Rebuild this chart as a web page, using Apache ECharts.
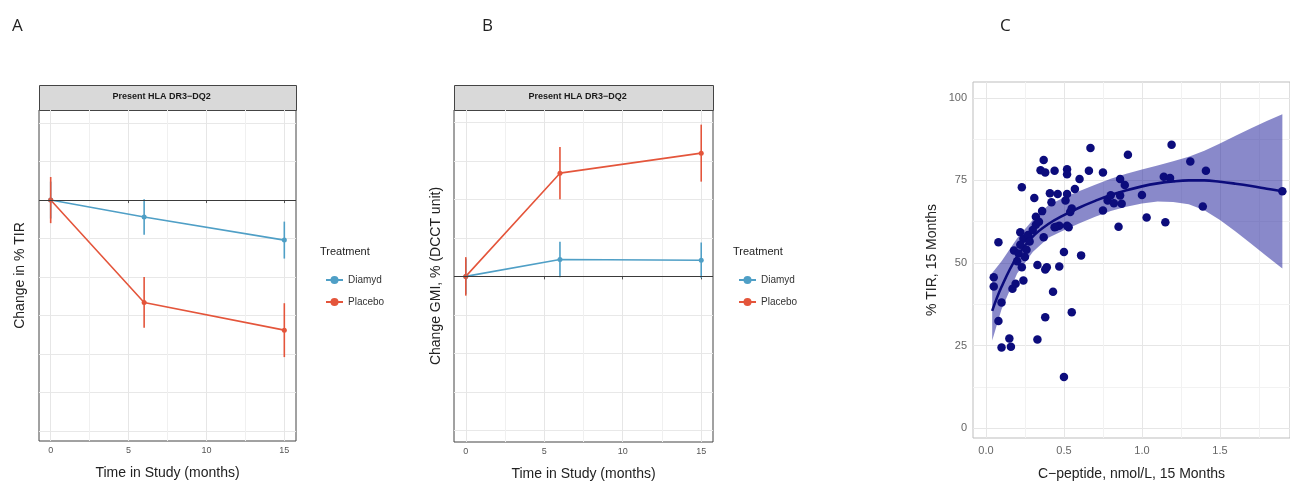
<!DOCTYPE html>
<html lang="en">

<head>
    <meta charset="UTF-8">
    <title>TIR / GMI / C-peptide</title>
    <script src="https://cdn.jsdelivr.net/npm/echarts@6/dist/echarts.min.js"></script>
    <style>
        html, body { margin: 0; padding: 0; background: #fff; }
        #chart { width: 1290px; height: 490px; }
    </style>
</head>

<body>
    <div id="chart"></div>
    <script>
        // panels A and B: visit months, mean change and error half-widths
        const months = [0, 6, 15];
        const diamydTIR = [0, -2.2, -5.2];
        const diamydTIRerr = [2.4, 2.3, 2.4];
        const placeboTIR = [0, -13.3, -16.9];
        const placeboTIRerr = [3.0, 3.3, 3.5];
        const diamydGMI = [0, 2.2, 2.1];
        const diamydGMIerr = [2.3, 2.3, 2.3];
        const placeboGMI = [0, 13.4, 16.0];
        const placeboGMIerr = [2.5, 3.4, 3.7];
        const monthTicks = [0, 5, 10, 15];
        const monthMinor = [2.5, 7.5, 12.5];
        const tirGrid = [-30, -25, -20, -15, -10, -5, 0, 5, 10];
        const gmiGrid = [-20, -15, -10, -5, 0, 5, 10, 15, 20];

        // panel C: scatter of C-peptide vs TIR
        const cpeptide = [0.05, 0.05, 0.08, 0.08, 0.10, 0.10, 0.16, 0.15, 0.17, 0.19,
            0.18, 0.21, 0.23, 0.22, 0.23, 0.24, 0.24, 0.25, 0.31, 0.32,
            0.33, 0.33, 0.35, 0.36, 0.37, 0.37, 0.38, 0.38, 0.38, 0.41,
            0.42, 0.43, 0.44, 0.46, 0.47, 0.47, 0.50, 0.50, 0.52, 0.52,
            0.52, 0.51, 0.52, 0.54, 0.55, 0.57, 0.60, 0.61, 0.66, 0.67,
            0.75, 0.75, 0.78, 0.82, 0.85, 0.86, 0.86, 0.87, 0.89, 0.91,
            1.00, 1.03, 1.14, 1.15, 1.18, 1.19, 1.31, 1.41, 1.39, 1.90,
            0.20, 0.22, 0.27, 0.30, 0.32, 0.34, 0.28, 0.26, 0.45, 0.55,
            0.80, 0.39, 0.44, 0.53];
        const tir15 = [45.7, 42.9, 56.3, 32.4, 38.0, 24.4, 24.6, 27.1, 42.2, 43.7,
            53.8, 52.9, 72.9, 59.3, 48.7, 44.7, 57.3, 51.8, 69.7, 61.6,
            49.4, 26.8, 78.1, 65.7, 57.8, 81.2, 77.4, 48.0, 33.6, 71.1,
            68.4, 41.3, 77.9, 70.9, 48.9, 61.3, 53.3, 15.5, 78.4, 76.9,
            70.9, 68.9, 61.3, 65.4, 35.1, 72.4, 75.4, 52.3, 77.9, 84.8,
            77.4, 65.9, 68.9, 68.1, 61.0, 75.4, 70.4, 67.9, 73.6, 82.8,
            70.6, 63.8, 76.1, 62.3, 75.7, 85.8, 80.7, 77.9, 67.1, 71.7,
            50.5, 55.5, 58.5, 60.0, 64.0, 62.5, 56.5, 54.0, 61.0, 66.5,
            70.5, 48.7, 60.8, 60.8];
        // smoothed fit with its confidence band
        const fitX = [0.04, 0.1, 0.2, 0.3, 0.4, 0.5, 0.6, 0.7, 0.8, 0.9,
            1.0, 1.1, 1.2, 1.3, 1.4, 1.5, 1.6, 1.7, 1.8, 1.9];
        const fitY = [35.5, 42.8, 52.0, 58.0, 61.8, 64.5, 66.8, 68.8, 70.6, 72.0,
            73.2, 74.1, 74.7, 75.0, 75.0, 74.6, 74.0, 73.3, 72.5, 71.7];
        const fitUpper = [47.0, 50.5, 57.5, 63.0, 67.5, 69.8, 71.8, 73.7, 75.5, 77.0,
            78.3, 79.5, 80.8, 82.2, 84.0, 86.2, 88.5, 90.8, 93.0, 95.0];
        const fitLower = [26.5, 36.0, 46.8, 53.3, 57.6, 59.9, 62.0, 64.0, 65.7, 67.0,
            68.0, 68.6, 68.5, 67.8, 66.0, 63.0, 59.5, 55.8, 52.0, 48.3];
        const cTicksX = [0, 0.5, 1.0, 1.5];
        const cMinorX = [0.25, 0.75, 1.25, 1.75];
        const cTicksY = [0, 25, 50, 75, 100];
        const cMinorY = [12.5, 37.5, 62.5, 87.5];

        const blue = '#4f9fc6';
        const red = '#e4553b';
        const navy = '#0c0c7c';
        const font = '"Liberation Sans", Arial, sans-serif';

        const zip = (xs, ys) => xs.map((x, i) => [x, ys[i]]);
        const zip3 = (xs, ys, es) => xs.map((x, i) => [x, ys[i], es[i]]);

        function errorBar(params, api) {
            const x = api.value(0), y = api.value(1), e = api.value(2);
            const a = api.coord([x, y + e]);
            const b = api.coord([x, y - e]);
            return {
                type: 'line',
                shape: { x1: a[0], y1: a[1], x2: b[0], y2: b[1] },
                style: { stroke: api.visual('color'), lineWidth: 1.6 }
            };
        }

        function band(params, api) {
            if (params.dataIndex !== 0) return;
            const pts = [];
            for (let i = 0; i < fitX.length; i++) pts.push(api.coord([fitX[i], fitUpper[i]]));
            for (let i = fitX.length - 1; i >= 0; i--) pts.push(api.coord([fitX[i], fitLower[i]]));
            return {
                type: 'polygon',
                shape: { points: pts },
                style: { fill: 'rgba(20,20,150,0.5)' }
            };
        }

        // a visible month axis and a hidden one that only draws the minor grid
        function monthAxes(grid) {
            return [{
                type: 'value', gridIndex: grid, min: -0.75, max: 15.75, position: 'bottom',
                name: 'Time in Study (months)', nameLocation: 'middle', nameGap: 25,
                nameTextStyle: { fontSize: 14, color: '#222', fontFamily: font },
                axisLine: { show: false },
                axisTick: { show: true, length: 3, customValues: monthTicks, lineStyle: { color: '#555' } },
                axisLabel: { customValues: monthTicks, fontSize: 9, color: '#555', margin: 5, fontFamily: font },
                splitLine: { show: true, lineStyle: { color: '#e6e6e6', width: 1 } }
            }, {
                type: 'value', gridIndex: grid, min: -0.75, max: 15.75, position: 'bottom',
                axisLine: { show: false },
                axisTick: { show: false, customValues: monthMinor },
                axisLabel: { show: false },
                splitLine: { show: true, lineStyle: { color: '#f0f0f0', width: 1 } }
            }];
        }

        function trendAxis(grid, name, min, max, values, gap) {
            return {
                type: 'value', gridIndex: grid, min: min, max: max,
                name: name, nameLocation: 'middle', nameGap: gap,
                nameTextStyle: { fontSize: 14, color: '#222', fontFamily: font },
                axisLine: { show: false },
                axisTick: { show: false, customValues: values },
                axisLabel: { show: false },
                splitLine: { show: true, lineStyle: { color: '#e8e8e8', width: 1 } }
            };
        }

        function trendSeries(name, color, xi, yi, ys, errs, zero) {
            const line = {
                name: name, type: 'line', xAxisIndex: xi, yAxisIndex: yi,
                data: zip(months, ys), color: color,
                symbol: 'circle', symbolSize: 5, showSymbol: true,
                lineStyle: { width: 1.6 }, z: 3
            };
            if (zero) {
                line.markLine = {
                    silent: true, symbol: ['none', 'none'], label: { show: false },
                    lineStyle: { color: '#3a3a3a', width: 1, type: 'solid' },
                    data: [{ yAxis: 0 }]
                };
            }
            return [line, {
                name: name + ' SE', type: 'custom', xAxisIndex: xi, yAxisIndex: yi,
                renderItem: errorBar, itemStyle: { color: color },
                encode: { x: 0, y: 1 }, data: zip3(months, ys, errs), z: 4
            }];
        }

        function strip(x, w) {
            return [{
                type: 'rect', left: x, top: 85,
                shape: { width: w, height: 25 },
                style: { fill: '#d9d9d9', stroke: '#444', lineWidth: 1 }
            }, {
                type: 'text', left: x + w / 2 - 55, top: 92,
                style: { text: 'Present HLA DR3−DQ2', font: 'bold 9px ' + font, fill: '#1a1a1a', width: 110, align: 'center' }
            }];
        }

        function legendTitle(x) {
            return {
                type: 'text', left: x, top: 246,
                style: { text: 'Treatment', font: '11px ' + font, fill: '#222' }
            };
        }

        const chart = echarts.init(document.getElementById('chart'));
        const option = {
            backgroundColor: '#fff',
            animation: false,
            textStyle: { fontFamily: font },
            grid: [
                { left: 39, top: 110, width: 257, height: 331, show: true, borderColor: '#444', borderWidth: 1, backgroundColor: 'transparent' },
                { left: 454, top: 110, width: 259, height: 332, show: true, borderColor: '#444', borderWidth: 1, backgroundColor: 'transparent' },
                { left: 973, top: 82, width: 317, height: 356, show: true, borderColor: '#bdbdbd', borderWidth: 1, backgroundColor: 'transparent' }
            ],
            legend: [
                { data: ['Diamyd', 'Placebo'], orient: 'vertical', left: 320, top: 270, itemWidth: 17, itemHeight: 10, itemGap: 12, textStyle: { fontSize: 10, color: '#333' } },
                { data: ['Diamyd', 'Placebo'], orient: 'vertical', left: 733, top: 270, itemWidth: 17, itemHeight: 10, itemGap: 12, textStyle: { fontSize: 10, color: '#333' } }
            ],
            xAxis: [
                ...monthAxes(0),
                ...monthAxes(1),
                {
                    type: 'value', gridIndex: 2, min: -0.083, max: 1.949, position: 'bottom',
                    name: 'C−peptide, nmol/L, 15 Months', nameLocation: 'middle', nameGap: 29,
                    nameTextStyle: { fontSize: 14, color: '#222', fontFamily: font },
                    axisLine: { show: false },
                    axisTick: { show: false, customValues: cTicksX },
                    axisLabel: { customValues: cTicksX, fontSize: 11, color: '#666', margin: 7, formatter: v => v.toFixed(1) },
                    splitLine: { show: true, lineStyle: { color: '#e6e6e6', width: 1 } }
                }, {
                    type: 'value', gridIndex: 2, min: -0.083, max: 1.949, position: 'bottom',
                    axisLine: { show: false },
                    axisTick: { show: false, customValues: cMinorX },
                    axisLabel: { show: false },
                    splitLine: { show: true, lineStyle: { color: '#f2f2f2', width: 1 } }
                }
            ],
            yAxis: [
                trendAxis(0, 'Change in % TIR', -31.3, 11.7, tirGrid, 12),
                trendAxis(1, 'Change GMI, % (DCCT unit)', -21.5, 21.6, gmiGrid, 11),
                {
                    type: 'value', gridIndex: 2, min: -3.0, max: 104.8,
                    name: '% TIR, 15 Months', nameLocation: 'middle', nameGap: 34,
                    nameTextStyle: { fontSize: 14, color: '#222', fontFamily: font },
                    axisLine: { show: false },
                    axisTick: { show: false, customValues: cTicksY },
                    axisLabel: { customValues: cTicksY, fontSize: 11, color: '#666', margin: 6 },
                    splitLine: { show: true, lineStyle: { color: '#e6e6e6', width: 1 } }
                }, {
                    type: 'value', gridIndex: 2, min: -3.0, max: 104.8, position: 'left',
                    axisLine: { show: false },
                    axisTick: { show: false, customValues: cMinorY },
                    axisLabel: { show: false },
                    splitLine: { show: true, lineStyle: { color: '#f2f2f2', width: 1 } }
                }
            ],
            series: [
                ...trendSeries('Diamyd', blue, 0, 0, diamydTIR, diamydTIRerr, true),
                ...trendSeries('Placebo', red, 0, 0, placeboTIR, placeboTIRerr, false),
                ...trendSeries('Diamyd', blue, 2, 1, diamydGMI, diamydGMIerr, true),
                ...trendSeries('Placebo', red, 2, 1, placeboGMI, placeboGMIerr, false),
                {
                    name: 'band', type: 'custom', xAxisIndex: 4, yAxisIndex: 2,
                    renderItem: band, encode: { x: 0, y: 1 }, data: [[fitX[0], fitY[0]]], z: 2
                },
                {
                    name: 'fit', type: 'line', xAxisIndex: 4, yAxisIndex: 2,
                    data: zip(fitX, fitY), smooth: 0.4, showSymbol: false,
                    color: navy, lineStyle: { width: 2.6 }, z: 3
                },
                {
                    name: 'patients', type: 'scatter', xAxisIndex: 4, yAxisIndex: 2,
                    data: zip(cpeptide, tir15), symbolSize: 8.5,
                    itemStyle: { color: navy, opacity: 1 }, z: 4
                }
            ],
            graphic: [
                { type: 'text', left: 12, top: 18, style: { text: 'A', font: '17px "Open Sans", sans-serif', fill: '#222' } },
                { type: 'text', left: 482, top: 18, style: { text: 'B', font: '17px "Open Sans", sans-serif', fill: '#222' } },
                { type: 'text', left: 1000, top: 18, style: { text: 'C', font: '17px "Open Sans", sans-serif', fill: '#222' } },
                ...strip(39, 257),
                ...strip(454, 259),
                legendTitle(320),
                legendTitle(733)
            ]
        };
        option && chart.setOption(option);
    </script>
</body>

</html>
